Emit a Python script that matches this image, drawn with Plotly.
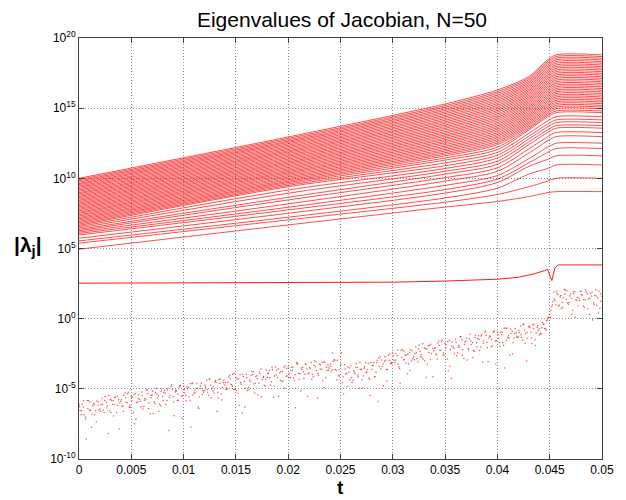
import numpy as np
import plotly.graph_objects as go

# ---------------- data (log10 of |lambda_j|) ----------------
# knot times for the 48 large eigenvalue curves
T_KNOTS = [0.0, 0.02, 0.035, 0.04, 0.043, 0.0448, 0.0456, 0.05]

lam_t000 = [10.00, 9.91, 9.82, 9.73, 9.63, 9.55, 9.45, 9.36, 9.27, 9.17,
            9.08, 8.98, 8.90, 8.80, 8.71, 8.62, 8.52, 8.43, 8.34, 8.24,
            8.15, 8.06, 7.96, 7.87, 7.78, 7.68, 7.58, 7.50, 7.40, 7.31,
            7.21, 7.12, 7.03, 6.93, 6.84, 6.74, 6.65, 6.56, 6.46, 6.36,
            6.27, 6.17, 6.07, 5.96, 5.73, 5.54, 5.38, 4.95]

lam_t020 = [12.95, 12.85, 12.75, 12.65, 12.56, 12.46, 12.36, 12.26, 12.16, 12.06,
            11.96, 11.87, 11.77, 11.67, 11.57, 11.47, 11.37, 11.27, 11.17, 11.08,
            10.98, 10.88, 10.78, 10.68, 10.58, 10.48, 10.39, 10.29, 10.19, 10.09,
            9.99, 9.89, 9.79, 9.70, 9.60, 9.50, 9.40, 9.17, 8.94, 8.65,
            8.46, 8.18, 7.94, 7.75, 7.51, 7.23, 7.04, 6.68]

lam_t035 = [15.30, 15.18, 15.07, 14.95, 14.84, 14.72, 14.61, 14.49, 14.38, 14.26,
            14.14, 14.03, 13.91, 13.80, 13.68, 13.57, 13.45, 13.33, 13.22, 13.10,
            12.99, 12.87, 12.76, 12.64, 12.53, 12.41, 12.29, 12.18, 12.06, 11.95,
            11.83, 11.72, 11.60, 11.45, 11.30, 11.10, 10.90, 10.70, 10.50, 10.30,
            10.05, 9.80, 9.50, 9.20, 8.95, 8.60, 8.30, 7.95]

lam_t040 = [16.30, 16.18, 16.06, 15.93, 15.81, 15.69, 15.57, 15.45, 15.33, 15.20,
            15.08, 14.96, 14.84, 14.72, 14.59, 14.47, 14.35, 14.23, 14.11, 13.98,
            13.86, 13.74, 13.62, 13.50, 13.38, 13.25, 13.13, 13.01, 12.89, 12.77,
            12.64, 12.52, 12.40, 12.22, 12.05, 11.85, 11.65, 11.45, 11.22, 11.00,
            10.75, 10.50, 10.20, 9.95, 9.70, 9.30, 8.85, 8.35]

lam_t043 = [17.25, 17.14, 17.03, 16.91, 16.80, 16.69, 16.58, 16.47, 16.35, 16.24,
            16.13, 16.02, 15.91, 15.79, 15.68, 15.57, 15.46, 15.35, 15.23, 15.12,
            15.01, 14.90, 14.79, 14.67, 14.56, 14.45, 14.34, 14.23, 14.11, 14.00,
            13.89, 13.78, 13.66, 13.55, 13.45, 13.20, 13.00, 12.80, 12.60, 12.40,
            12.10, 11.80, 11.40, 11.10, 10.85, 10.30, 9.40, 8.70]

lam_t0448 = [18.45, 18.33, 18.21, 18.09, 17.97, 17.85, 17.73, 17.61, 17.49, 17.37,
             17.25, 17.13, 17.01, 16.89, 16.77, 16.65, 16.53, 16.41, 16.29, 16.17,
             16.05, 15.93, 15.81, 15.69, 15.57, 15.45, 15.33, 15.21, 15.09, 14.97,
             14.85, 14.73, 14.61, 14.50, 14.38, 14.09, 13.86, 13.67, 13.45, 13.27,
             12.96, 12.67, 12.22, 11.85, 11.35, 10.70, 9.80, 8.98]

lam_plateau = [18.80, 18.68, 18.56, 18.44, 18.32, 18.20, 18.08, 17.96, 17.84, 17.72,
               17.60, 17.48, 17.36, 17.24, 17.12, 17.00, 16.88, 16.76, 16.64, 16.52,
               16.40, 16.28, 16.16, 16.04, 15.92, 15.80, 15.68, 15.56, 15.44, 15.32,
               15.20, 15.08, 14.96, 14.80, 14.68, 14.39, 14.16, 13.97, 13.75, 13.57,
               13.26, 12.97, 12.50, 12.12, 11.60, 10.95, 10.00, 9.05]

# the single intermediate eigenvalue (~1e2.5)
mid_t = [0.0, 0.02, 0.03, 0.035, 0.04, 0.042, 0.0435, 0.0445, 0.0448, 0.0450,
         0.0452, 0.0455, 0.0458, 0.05]
mid_log = [2.53, 2.56, 2.60, 2.68, 2.81, 2.95, 3.19, 3.42, 3.52, 3.10,
           2.71, 3.60, 3.83, 3.83]

# the small, noisy eigenvalue (sampled every 0.0002, three interleaved sweeps)
NOISE_DT = 0.0002
noise_a = [
    -6.10, -6.84, -6.30, -7.02, -5.83, -6.50, -7.74, -6.05, -6.54, -6.17,
    -6.44, -5.69, -6.69, -5.96, -8.19, -5.76, -6.11, -5.61, -6.68, -5.78,
    -5.88, -6.25, -5.28, -5.97, -6.31, -5.55, -6.68, -5.33, -5.93, -5.75,
    -5.23, -6.26, -5.78, -5.33, -6.78, -5.44, -5.92, -4.96, -5.51, -6.21,
    -5.54, -5.10, -5.84, -7.97, -4.84, -5.54, -5.22, -5.85, -4.87, -5.52,
    -4.80, -5.47, -4.99, -5.82, -4.64, -5.31, -4.98, -6.30, -4.78, -5.40,
    -5.12, -4.39, -5.46, -4.74, -5.16, -4.50, -6.60, -4.34, -5.35, -4.55,
    -4.54, -5.01, -4.03, -4.71, -5.05, -4.20, -5.32, -3.99, -6.72, -4.47,
    -3.94, -4.88, -4.48, -3.98, -5.30, -4.07, -4.59, -3.58, -4.19, -4.81,
    -4.20, -3.70, -4.50, -5.60, -3.45, -4.19, -3.86, -4.50, -3.46, -4.11,
    -3.45, -4.20, -3.67, -4.40, -3.21, -3.89, -5.15, -3.46, -3.96, -3.59,
    -3.87, -3.13, -4.14, -3.42, -5.65, -3.24, -3.60, -3.10, -4.19, -3.29,
    -3.40, -2.45, -2.92, -3.68, -4.07, -3.38, -4.56, -3.28, -3.93, -3.82,
    -3.35, -4.39, -3.92, -3.48, -4.94, -3.61, -4.09, -3.15, -3.65, -4.32,
    -3.60, -3.12, -3.82, -5.91, -2.74, -3.40, -3.03, -3.63, -2.60, -3.22,
    -2.45, -3.12, -2.64, -3.45, -2.27, -2.94, -2.61, -3.93, -2.39, -3.01,
    -2.73, -2.00, -3.07, -2.34, -2.75, -2.09, -4.19, -1.93, -2.93, -2.12,
    -2.11, -2.58, -1.60, -2.27, -2.60, -1.75, -2.87, -1.54, -4.26, -2.01,
    -1.48, -2.42, -2.02, -1.51, -2.83, -1.60, -2.12, -1.11, -1.71, -2.33,
    -1.72, -1.22, -2.02, -3.11, -0.96, -1.70, -1.37, -2.01, -0.96, -1.61,
    -0.95, -1.69, -1.15, -1.87, -0.67, -1.35, -2.59, -0.89, -1.38, -1.01,
    -1.28, -0.52, -1.53, -0.80, -3.02, -0.60, -0.95, -0.44, -1.51, -0.61,
    -0.71, -1.08, -0.40, -0.70, -0.10, 0.30, 0.85, 1.90, 1.00, 1.70,
    1.55, 1.15, 2.10, 1.38, 1.02, 1.75, 0.60, 1.92, 1.30, 1.45,
    1.95, 0.90, 1.35, 1.78, 0.30, 1.62, 1.12, 2.05, 1.48, 0.75,
    1.60]
noise_b = [
    -6.55, -6.10, -6.85, -8.57, -5.85, -6.54, -6.21, -6.85, -5.86, -6.52,
    -6.14, -6.52, -5.54, -6.23, -6.57, -5.81, -6.93, -5.59, -6.18, -6.01,
    -6.23, -5.45, -5.98, -5.25, -6.33, -5.60, -7.48, -5.97, -5.43, -6.25,
    -6.43, -5.68, -5.08, -5.99, -5.46, -6.76, -5.26, -5.66, -6.09, -5.01,
    -5.26, -6.12, -4.99, -5.45, -5.04, -6.92, -5.15, -5.82, -4.77, -5.47,
    -5.30, -4.85, -5.59, -7.72, -4.59, -5.28, -4.95, -5.58, -4.60, -5.25,
    -4.87, -5.24, -4.26, -4.96, -5.29, -4.53, -5.65, -4.30, -4.90, -4.72,
    -4.94, -4.16, -4.68, -3.96, -5.03, -4.30, -6.17, -4.66, -4.12, -4.94,
    -5.11, -4.35, -3.75, -4.66, -4.13, -5.42, -3.91, -4.31, -4.74, -3.66,
    -3.90, -4.75, -3.62, -4.08, -3.67, -5.54, -3.76, -4.43, -3.38, -4.08,
    -3.90, -3.46, -4.22, -6.35, -3.23, -3.93, -3.62, -4.26, -3.28, -3.94,
    -3.57, -3.96, -2.99, -3.69, -4.03, -3.29, -4.42, -3.08, -3.69, -3.52,
    -3.75, -3.04, -3.62, -2.96, -4.09, -2.43, -5.36, -3.92, -3.43, -4.32,
    -4.55, -3.81, -3.22, -4.14, -3.62, -4.93, -3.43, -3.85, -4.23, -3.12,
    -3.32, -4.14, -2.97, -3.39, -2.94, -4.78, -2.96, -3.60, -2.50, -3.17,
    -2.95, -2.50, -3.24, -4.60, -2.22, -2.91, -2.58, -3.21, -2.21, -2.86,
    -2.48, -2.85, -1.87, -2.56, -2.88, -2.12, -3.24, -1.89, -2.48, -2.29,
    -2.51, -1.73, -2.25, -1.52, -2.58, -1.85, -3.72, -2.21, -1.66, -2.48,
    -2.65, -1.89, -1.29, -2.19, -1.66, -2.95, -1.44, -1.84, -2.26, -1.18,
    -1.42, -2.27, -1.14, -1.59, -1.18, -3.05, -1.27, -1.94, -0.88, -1.58,
    -1.40, -0.95, -1.70, -3.52, -0.69, -1.39, -1.06, -1.69, -0.70, -1.36,
    -0.98, -1.35, -0.38, -1.07, -1.40, -0.65, -1.77, -0.42, -1.01, -0.84,
    -1.05, -0.27, -0.70, -0.15, 0.10, 0.60, 1.20, 1.28, 1.80, 0.95,
    0.75, 1.48, 2.05, 1.12, 1.62, 0.30, 1.78, 1.35, 0.90, 1.95,
    1.68, 0.80, 1.90, 1.42, 1.80, -0.10, 1.65, 0.95, 1.98, 1.25]
noise_c = [
    -6.25, -6.57, -5.85, -7.17, -6.40, -5.94, -6.79, -6.15, -7.34, -5.94,
    -6.59, -6.09, -5.84, -6.36, -5.47, -6.68, -5.85, -6.11, -5.53, -7.86,
    -5.78, -6.60, -5.63, -5.35, -6.18, -5.85, -5.38, -7.15, -5.71, -5.90,
    -5.48, -5.81, -5.08, -6.41, -5.63, -5.18, -6.04, -5.39, -6.59, -5.18,
    -5.84, -5.34, -5.09, -5.62, -4.72, -5.94, -5.12, -5.37, -4.80, -7.12,
    -5.05, -5.87, -4.89, -4.62, -5.44, -5.11, -4.63, -6.40, -4.96, -5.15,
    -4.72, -5.04, -4.31, -5.64, -4.86, -4.40, -5.25, -4.60, -5.80, -4.39,
    -5.04, -4.53, -4.28, -4.81, -3.91, -5.12, -4.29, -4.54, -3.97, -6.29,
    -4.21, -5.03, -4.05, -3.78, -4.60, -4.27, -3.79, -5.56, -4.12, -4.31,
    -3.88, -4.20, -3.47, -4.80, -4.02, -3.56, -4.41, -3.76, -4.96, -3.55,
    -4.20, -3.70, -3.47, -4.00, -3.11, -4.33, -3.52, -3.78, -3.21, -5.54,
    -3.47, -4.31, -3.34, -3.07, -3.90, -3.59, -3.12, -4.90, -3.47, -3.67,
    -3.25, -3.64, -2.97, -4.36, -3.64, -3.25, -4.16, -3.58, -4.83, -3.49,
    -4.20, -3.71, -3.47, -4.01, -3.12, -4.35, -3.53, -3.80, -3.18, -5.47,
    -3.35, -4.14, -3.12, -2.81, -3.59, -3.23, -2.71, -4.45, -2.96, -3.12,
    -2.65, -2.97, -2.24, -3.55, -2.77, -2.31, -3.16, -2.51, -3.69, -2.28,
    -2.93, -2.42, -2.17, -2.69, -1.78, -2.99, -2.16, -2.41, -1.83, -4.14,
    -2.06, -2.88, -1.90, -1.62, -2.43, -2.10, -1.62, -3.39, -1.94, -2.13,
    -1.70, -2.02, -1.29, -2.61, -1.83, -1.37, -2.22, -1.57, -2.76, -1.35,
    -2.00, -1.49, -1.24, -1.76, -0.86, -2.07, -1.24, -1.49, -0.91, -3.23,
    -1.15, -1.97, -0.97, -0.69, -1.54, -1.22, -0.74, -2.51, -1.06, -1.26,
    -0.83, -1.15, -0.43, -1.75, -0.97, -0.52, -1.37, -0.72, -1.91, -0.51,
    -1.16, -0.65, -0.40, -0.80, 0.05, 0.10, 1.00, 1.40, 1.95, 0.90,
    1.65, 0.80, 1.75, 2.00, 1.15, 1.45, 1.90, 0.10, 1.52, 1.30,
    1.70, 1.35, 2.05, 0.70, 1.45, 1.88, 1.00, 1.62, 0.40, 1.78]

X_TICKS = [0, 0.005, 0.01, 0.015, 0.02, 0.025, 0.03, 0.035, 0.04, 0.045, 0.05]
X_TICKTEXT = ["0", "0.005", "0.01", "0.015", "0.02", "0.025", "0.03",
              "0.035", "0.04", "0.045", "0.05"]
Y_TICK_EXP = [-10, -5, 0, 5, 10, 15, 20]

# ---------------- figure ----------------
RED = "rgb(255,0,0)"
FONT = "Liberation Sans, Arial, Helvetica, sans-serif"

fig = go.Figure()

xs, ys = [], []
for i in range(len(lam_t000)):
    vals = [lam_t000[i], lam_t020[i], lam_t035[i], lam_t040[i], lam_t043[i],
            lam_t0448[i], lam_plateau[i], lam_plateau[i]]
    xs += T_KNOTS + [None]
    ys += [10 ** v for v in vals] + [None]

fig.add_trace(go.Scatter(x=xs, y=ys, mode="lines",
                         line=dict(color=RED, width=0.7, shape="spline", smoothing=0.8),
                         hoverinfo="skip", showlegend=False))

fig.add_trace(go.Scatter(x=mid_t, y=[10 ** v for v in mid_log], mode="lines",
                         line=dict(color=RED, width=0.9),
                         hoverinfo="skip", showlegend=False))

t_a = np.arange(len(noise_a)) * NOISE_DT
t_b = NOISE_DT / 2 + np.arange(len(noise_b)) * NOISE_DT
t_c = NOISE_DT / 4 + np.arange(len(noise_c)) * NOISE_DT
fig.add_trace(go.Scatter(x=np.concatenate([t_a, t_b, t_c]),
                         y=[10 ** v for v in noise_a + noise_b + noise_c],
                         mode="markers",
                         marker=dict(color=RED, size=1.5, opacity=0.7, line=dict(width=0)),
                         hoverinfo="skip", showlegend=False))

axis_common = dict(showline=True, linecolor="#404040", linewidth=1, mirror="ticks",
                   ticks="inside", ticklen=5, tickcolor="#404040", tickwidth=1,
                   showgrid=True, gridcolor="#8c8c8c", gridwidth=1, griddash="1px,2px",
                   zeroline=False, tickfont=dict(family=FONT, size=12, color="black"))

fig.update_xaxes(range=[0, 0.05], tickvals=X_TICKS, ticktext=X_TICKTEXT, **axis_common)
fig.update_yaxes(type="log", range=[-10, 20],
                 tickvals=[10.0 ** e for e in Y_TICK_EXP],
                 ticktext=["10<sup>%d</sup>" % e for e in Y_TICK_EXP],
                 **axis_common)

fig.update_layout(
    width=626, height=500,
    margin=dict(l=79, r=13, t=38, b=41),
    paper_bgcolor="white", plot_bgcolor="white",
    font=dict(family=FONT, color="black"),
    title=dict(text="Eigenvalues of Jacobian, N=50", x=342 / 626, xref="container",
               xanchor="center", y=1 - 20 / 500, yref="container", yanchor="middle",
               font=dict(family=FONT, size=21, color="black")),
    annotations=[
        dict(text="<b>|λ<sub>j</sub>|</b>", xref="paper", yref="paper",
             x=-0.098, y=0.506, xanchor="center", yanchor="middle", showarrow=False,
             font=dict(family=FONT, size=21, color="black")),
        dict(text="<b>t</b>", xref="paper", yref="paper",
             x=0.5, y=-0.068, xanchor="center", yanchor="middle", showarrow=False,
             font=dict(family=FONT, size=19, color="black")),
    ],
)

fig.write_html("out.html")
